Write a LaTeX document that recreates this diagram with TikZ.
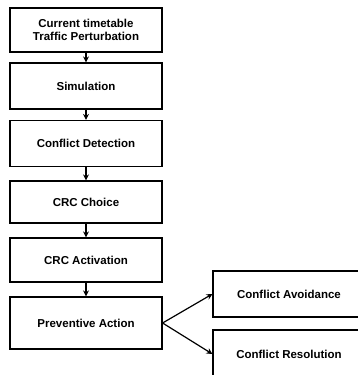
\documentclass[tikz,border=0pt]{standalone}
\usepackage{fontspec}
\setmainfont{Liberation Sans}
\usetikzlibrary{arrows.meta}
\tikzset{
  stepbox/.style={draw,line width=1.2pt,minimum width=152pt,minimum height=46pt,
    align=center,font=\bfseries\fontsize{11.5}{13}\selectfont,inner sep=0pt},
  flow/.style={line width=1.2pt,-{Stealth[length=6pt,width=6pt]}}
}
\begin{document}
\begin{tikzpicture}[x=1pt,y=-1pt]
      \useasboundingbox (0,0) rectangle (358,375);
      \clip (0,0) rectangle (358,375);
      % main column
      \node[stepbox,minimum height=44pt] (input) at (86,30) {Current timetable\\Traffic Perturbation};
      \node[stepbox] (sim) at (86,86) {Simulation};
      \node[stepbox] (detect) at (86,143.5) {Conflict Detection};
      \node[stepbox,minimum height=42pt] (choice) at (86,202) {CRC Choice};
      \node[stepbox,minimum height=44pt] (activ) at (86,260) {CRC Activation};
      \node[stepbox,minimum height=52pt] (prev) at (86,323) {Preventive Action};

      % right branch
      \node[stepbox] (avoid) at (289,294) {Conflict Avoidance};
      \node[stepbox,minimum height=48pt] (resol) at (289,354) {Conflict Resolution};

      % arrows
      \draw[flow] (input) -- (sim);
      \draw[flow] (sim) -- (detect);
      \draw[flow] (detect) -- (choice);
      \draw[flow] (choice) -- (activ);
      \draw[flow] (activ) -- (prev);
      \draw[flow] (prev.east) -- (avoid.west);
      \draw[flow] (prev.east) -- (resol.west);
    \end{tikzpicture}
\end{document}
